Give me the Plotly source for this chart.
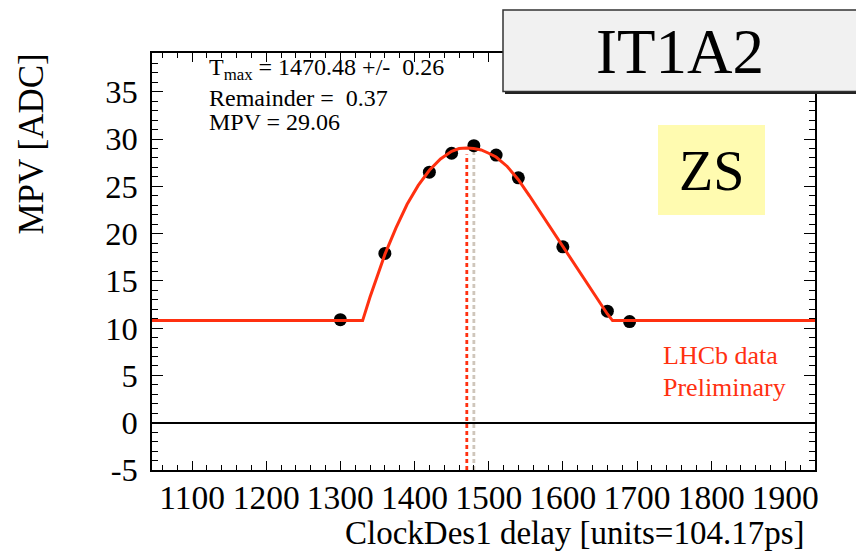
import plotly.graph_objects as go

# Measured MPV per clock delay setting
delay = [1300, 1360, 1420, 1450, 1480, 1510, 1540, 1600, 1660, 1690]
mpv_vals = [10.9, 17.9, 26.5, 28.5, 29.3, 28.3, 25.9, 18.6, 11.8, 10.7]

# Fitted pulse shape sampled along the delay axis
fit_x = [1046, 1330, 1340, 1350, 1360, 1375, 1390, 1405, 1420, 1435, 1450, 1460,
         1470.5, 1480, 1490, 1500, 1510, 1525, 1540, 1555, 1570, 1585, 1600, 1615,
         1630, 1645, 1660, 1667, 1940]
fit_y = [10.8, 10.8, 13.3, 15.6, 17.8, 20.6, 23.1, 25.1, 26.7, 27.9, 28.7, 29.0,
         29.06, 29.0, 28.85, 28.5, 28.1, 27.1, 25.7, 24.0, 22.2, 20.4, 18.6, 16.8,
         15.0, 13.3, 11.5, 10.8, 10.8]

# Fit results
t_max = 1470.48
t_max_err = 0.26
remainder = 0.37
mpv_fit = 29.06

x_range = [1046, 1940]
y_range = [-5, 39.1]
y_tickvals = [-5, 0, 5, 10, 15, 20, 25, 30, 35]
y_ticktext = ["-5", "0", "5", "10", "15", "20", "25", "30", "35"]

RED = "#ff3010"
FONT = "Liberation Serif"

# plot-area geometry in pixels
W, H = 856, 552
L, R, T, B = 152, 815, 53, 470


def px(x):
    return (x - L) / (R - L)


def py(y):
    return (B - y) / (B - T)


fig = go.Figure()

# peak-position markers
peak_i = max(range(len(mpv_vals)), key=lambda i: mpv_vals[i])
fig.add_trace(go.Scatter(x=[delay[peak_i], delay[peak_i]], y=[y_range[0], mpv_vals[peak_i] - 0.6],
                         mode="lines", line=dict(color="#cfc6bb", width=2.8, dash="4px,3px"),
                         hoverinfo="skip", showlegend=False))
fig.add_trace(go.Scatter(x=[t_max, t_max], y=[y_range[0], mpv_fit - 0.7],
                         mode="lines", line=dict(color=RED, width=2.8, dash="4px,3px"),
                         hoverinfo="skip", showlegend=False))

# data points
fig.add_trace(go.Scatter(x=delay, y=mpv_vals, mode="markers",
                         marker=dict(color="black", size=13), showlegend=False))

# fitted curve
fig.add_trace(go.Scatter(x=fit_x, y=fit_y, mode="lines",
                         line=dict(color=RED, width=3), showlegend=False))

axis_common = dict(
    showgrid=False, showline=True, linecolor="black", linewidth=1.5, mirror="ticks",
    ticks="inside", tickcolor="black", tickwidth=1.2,
)

fig.update_xaxes(range=x_range, dtick=100, tick0=1000, ticklen=9, zeroline=False,
                 tickfont=dict(family=FONT, size=33.5, color="black"),
                 minor=dict(dtick=20, ticks="inside", ticklen=5, tickcolor="black", tickwidth=1),
                 ticklabelstandoff=-3, **axis_common)
fig.update_yaxes(range=y_range, tickvals=y_tickvals, ticktext=y_ticktext, ticklen=11,
                 tickfont=dict(family=FONT, size=32.5, color="black"),
                 zeroline=True, zerolinecolor="black", zerolinewidth=1.5,
                 minor=dict(dtick=1, tick0=0, ticks="inside", ticklen=6, tickcolor="black", tickwidth=1),
                 ticklabelstandoff=6, **axis_common)

shapes = [
    # title box shadow and box
    dict(type="rect", xref="paper", yref="paper", x0=px(505), x1=px(862), y0=py(94), y1=py(13),
         fillcolor="#222222", line=dict(width=0), layer="above"),
    dict(type="rect", xref="paper", yref="paper", x0=px(503), x1=px(860), y0=py(91.5), y1=py(10),
         fillcolor="#f1f1f1", line=dict(color="#333333", width=1.5), layer="above"),
    # ZS label box
    dict(type="rect", xref="paper", yref="paper", x0=px(658), x1=px(765), y0=py(215), y1=py(125),
         fillcolor="#fffbb0", line=dict(width=0), layer="above"),
]

ann = [
    dict(text="MPV [ADC]", x=px(31), y=py(52), xref="paper", yref="paper", textangle=-90,
         xanchor="center", yanchor="top", showarrow=False, font=dict(family=FONT, size=35)),
    dict(text="ClockDes1 delay [units=104.17ps]", x=px(806), y=py(533), xref="paper", yref="paper",
         xanchor="right", yanchor="middle", showarrow=False, font=dict(family=FONT, size=33)),
    dict(text=f"T<sub>max</sub> = {t_max:.2f} +/-\u00a0 {t_max_err:.2f}", x=px(207), y=py(69),
         xref="paper", yref="paper", xanchor="left", yanchor="middle", showarrow=False,
         font=dict(family=FONT, size=24)),
    dict(text=f"Remainder =\u00a0 {remainder:.2f}", x=px(207), y=py(97.5),
         xref="paper", yref="paper", xanchor="left", yanchor="middle", showarrow=False,
         font=dict(family=FONT, size=24)),
    dict(text=f"MPV = {mpv_fit:.2f}", x=px(207), y=py(122),
         xref="paper", yref="paper", xanchor="left", yanchor="middle", showarrow=False,
         font=dict(family=FONT, size=24)),
    dict(text="IT1A2", x=px(680), y=py(52), xref="paper", yref="paper",
         xanchor="center", yanchor="middle", showarrow=False, font=dict(family=FONT, size=63)),
    dict(text="ZS", x=px(711), y=py(171), xref="paper", yref="paper",
         xanchor="center", yanchor="middle", showarrow=False, font=dict(family=FONT, size=56)),
    dict(text="LHCb data", x=px(661), y=py(355), xref="paper", yref="paper",
         xanchor="left", yanchor="middle", showarrow=False, font=dict(family=FONT, size=26, color=RED)),
    dict(text="Preliminary", x=px(661), y=py(387), xref="paper", yref="paper",
         xanchor="left", yanchor="middle", showarrow=False, font=dict(family=FONT, size=26, color=RED)),
]

fig.update_layout(
    width=W, height=H,
    margin=dict(l=L, r=W - R, t=T, b=H - B),
    paper_bgcolor="white", plot_bgcolor="white",
    font=dict(family=FONT, color="black"),
    shapes=shapes, annotations=ann, showlegend=False,
)

fig.write_html("out.html")
